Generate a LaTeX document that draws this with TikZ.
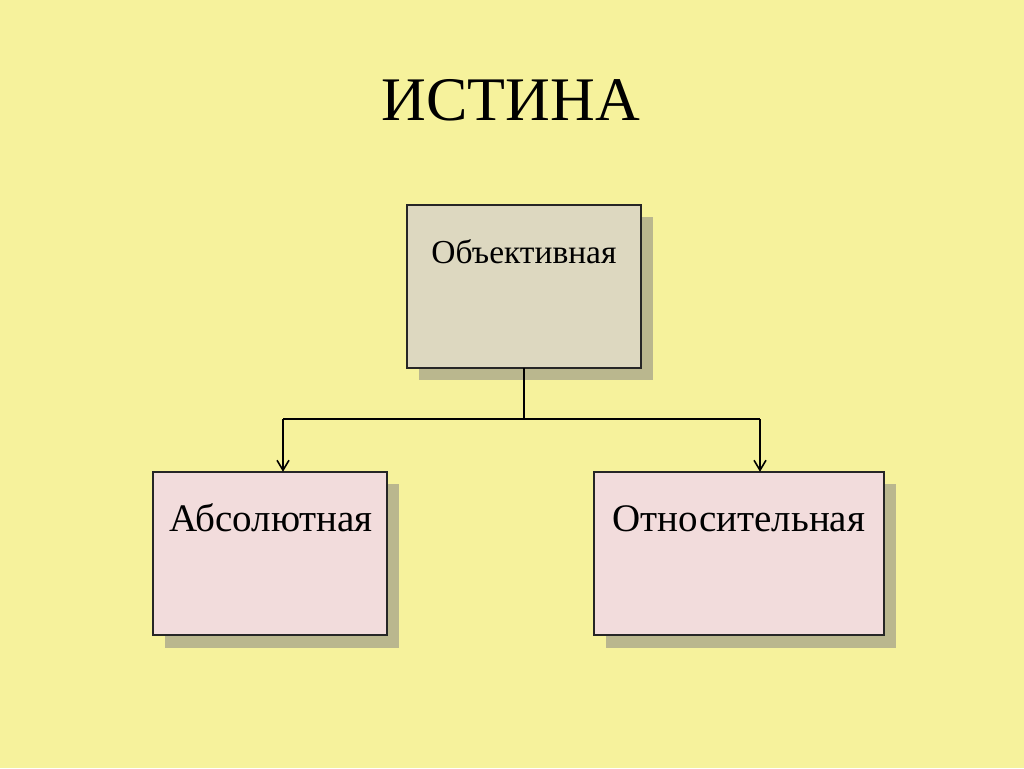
\documentclass[tikz,border=0pt]{standalone}
\usepackage{fontspec}
\setmainfont{Liberation Serif}
\usetikzlibrary{arrows.meta}
\definecolor{bg}{HTML}{F6F29C}
\definecolor{topfill}{HTML}{DDD8C0}
\definecolor{pinkfill}{HTML}{F2DCDC}
\definecolor{shadowc}{HTML}{BAB78E}
\tikzset{
  box/.style={draw=black!85, line width=1.3pt, inner sep=0pt, anchor=north west},
  shadowbox/.style={fill=shadowc, draw=none},
  conn/.style={line width=1.2pt, black},
  arr/.style={conn, -{Straight Barb[length=10pt, width=12pt, line width=1.6pt]}},
  lbl/.style={anchor=base, text=black}
}
\begin{document}
\begin{tikzpicture}[x=1pt, y=-1pt]
\useasboundingbox (0,0) rectangle (1024,768);
\fill[bg] (0,0) rectangle (1024,768);
% title
\node[lbl, font=\fontsize{62}{66}\selectfont] (title) at (511,120) {ИСТИНА};
% shadows
\fill[shadowbox] (419,217) rectangle (653,380);
\fill[shadowbox] (165,484) rectangle (399,648);
\fill[shadowbox] (606,484) rectangle (896,648);
% boxes
\draw[box, fill=topfill] (407,205) rectangle (641,368);
\node (top) at (524,286.5) [minimum width=234pt, minimum height=163pt, inner sep=0pt] {};
\draw[box, fill=pinkfill] (153,472) rectangle (387,635);
\node (left) at (270,553.5) [minimum width=234pt, minimum height=163pt, inner sep=0pt] {};
\draw[box, fill=pinkfill] (594,472) rectangle (884,635);
\node (right) at (739,553.5) [minimum width=290pt, minimum height=163pt, inner sep=0pt] {};
% labels
\node[lbl, font=\fontsize{33.5}{36}\selectfont] (topl) at (524,263) {Объективная};
\node[lbl, font=\fontsize{39}{42}\selectfont] (leftl) at (271,531) {Абсолютная};
\node[lbl, font=\fontsize{39}{42}\selectfont] (rightl) at (739,531) {Относительная};
% connectors
\coordinate (j) at (524,419);
\coordinate (jl) at (283,419);
\coordinate (jr) at (760,419);
\draw[conn] (top.south -| j) -- (j);
\draw[conn] (jl) -- (jr);
\draw[arr] (jl) -- (jl |- left.north);
\draw[arr] (jr) -- (jr |- right.north);
\end{tikzpicture}
\end{document}
